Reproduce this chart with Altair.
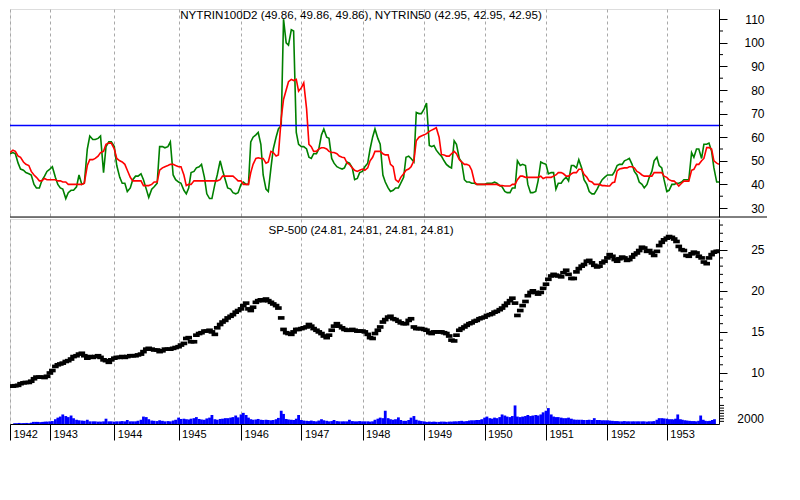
import altair as alt
import pandas as pd

W = 709
H_TOP = 208
H_BOT = 205
FONT = "Liberation Sans"

TOP_TITLE = "NYTRIN100D2 (49.86, 49.86, 49.86), NYTRIN50 (42.95, 42.95, 42.95)"
BOT_TITLE = "SP-500 (24.81, 24.81, 24.81, 24.81)"

# semi-monthly samples (1st and 15th of each month), May 1942 - Nov 1953
sample_dates = pd.date_range("1942-05-15", "1953-11-15", freq="SMS")

nytrin50 = (
    [53, 53.5, 53, 49, 46.5, 46, 45, 44.5, 44, 40, 38.5, 38.5, 41.5, 43.5, 45.5]  # 1942
    + [46.5, 47.5, 43, 40, 38.5, 38, 34, 36.5, 37.5, 37.5, 39, 44, 40, 40.5, 55, 60.5, 59, 59, 59.5, 60.5, 45, 56, 58, 58]  # 1943
    + [56, 48, 43, 40.5, 40.5, 37, 38.5, 42, 43.5, 43.5, 44.5, 42, 38, 34.5, 38, 39, 40.5, 56, 56, 55.5, 56, 58, 44, 42]  # 1944
    + [41, 40.5, 37.5, 36, 38.5, 45, 45.5, 47, 47.5, 48.5, 43, 36, 34, 34, 40, 44, 50, 46, 42, 38.5, 38, 36.5, 36, 36.5]  # 1945
    + [40, 41, 40, 40, 58, 60, 61, 62, 57, 44, 38, 37, 47, 55, 60, 63.5, 65, 110, 100, 99, 105.5, 105, 62, 57]  # 1946
    + [56, 56, 55, 51.5, 51, 53, 53, 55, 61, 63.5, 60, 59.5, 51, 49, 47.5, 47, 46.5, 47, 49.5, 49, 47, 42, 42.5, 45]  # 1947
    + [45.5, 47.5, 49, 55, 60, 63.5, 59.5, 57, 44, 41, 38.5, 37, 37.5, 38.5, 38.5, 40.5, 43, 51.5, 52, 51, 49.5, 70.5, 70, 70]  # 1948
    + [72, 74.5, 56.5, 56, 56.5, 54.5, 53, 52, 50, 48.5, 47.5, 47, 58.5, 57, 51, 49.5, 42, 41, 41, 40.5, 40.5, 40, 40, 40]  # 1949
    + [40, 40.5, 40.5, 40.5, 41, 40.5, 39.5, 39, 37, 36.5, 36.5, 38.5, 38.5, 50, 48, 48.5, 48, 40, 36.5, 36.5, 37, 41.5, 49.5, 49]  # 1950
    + [48.5, 44.5, 45, 45, 38, 40.5, 40.5, 42, 43, 41.5, 48, 48, 47, 50.5, 47, 42, 40, 37, 36, 36, 38, 40, 42, 43]  # 1951
    + [44, 44, 44, 45.5, 48, 48.5, 48.5, 50, 50.5, 51, 48.5, 45.5, 44, 41, 40, 38.5, 40, 43, 45.5, 50, 51.5, 48, 47, 42]  # 1952
    + [37, 37.5, 40, 40, 40.5, 40.5, 41, 42, 42, 42, 53.5, 51.5, 55, 55, 51, 57, 57, 57.5, 54, 47, 41, 41]  # 1953
)

nytrin100d2 = (
    [53.5, 54.5, 54, 52, 51.5, 49.5, 48.5, 48, 45.5, 44, 43, 41.5, 41.5, 42.5, 42]  # 1942
    + [42, 42, 42, 41.5, 41.5, 41, 41, 40, 40, 40, 40, 40, 40, 40.5, 48, 50.5, 50.5, 51, 52, 53.5, 54, 57, 57.5, 57.5]  # 1943
    + [55, 51, 50, 49.5, 48.5, 46, 43, 41.5, 41.5, 41.5, 41.5, 39.5, 39.5, 39.5, 40, 41, 41, 46, 47, 47.5, 48, 48.5, 48.5, 48]  # 1944
    + [47.5, 47.5, 44, 39.5, 40, 40, 41.5, 41.5, 41.5, 41.5, 41.5, 41.5, 41.5, 41.5, 41.5, 41.5, 42, 43.5, 43.5, 43.5, 43.5, 43.5, 42.5, 41.5]  # 1945
    + [41.5, 40, 40, 40, 45, 48.5, 51, 51.3, 51, 51, 49, 49.5, 54, 53.5, 52, 52.5, 68, 76, 80, 83.5, 84.5, 84, 84.5, 79.5]  # 1946
    + [81, 83, 72, 57, 56, 54, 54, 55, 55.5, 55.5, 55, 54, 53.5, 53.5, 53, 52, 51.5, 51.3, 49, 48.5, 47, 46, 45.5, 46]  # 1947
    + [46.5, 46, 47, 50, 51.5, 54, 54, 54, 53, 52.5, 52.5, 48.5, 47.5, 42, 41, 43, 44.5, 46, 46.5, 47.5, 50, 58.5, 60, 60.5]  # 1948
    + [61, 61.5, 62.5, 63, 63.5, 64, 60, 52.7, 52.5, 52, 52, 53, 54, 53, 50.5, 49.5, 48.5, 48.5, 48, 46, 41, 40, 40, 40]  # 1949
    + [40, 40, 40, 40, 40, 40, 39.5, 39.5, 39.3, 39.3, 39.3, 40, 40, 42, 43.5, 43.5, 43, 43, 43, 43, 43, 43, 43.5, 42.5]  # 1950
    + [43, 43, 43, 43.5, 44, 45, 45, 44.5, 43.5, 43.5, 44.5, 45, 45, 46.4, 46.4, 44.3, 43, 41.4, 41, 40, 40, 40, 39.5, 39.5]  # 1951
    + [39.3, 39.3, 40.7, 41, 45.7, 46.5, 46.8, 47, 47, 47.5, 47.5, 47, 45.5, 45, 44, 43.5, 43.5, 43.5, 43.5, 45, 45, 45, 45, 43.5]  # 1952
    + [43, 42, 41.5, 41.4, 40.5, 39.3, 40.5, 41.4, 41.4, 41.4, 46, 46.4, 48.5, 48.5, 50, 51, 55.6, 55.6, 55, 50, 49, 48.5]  # 1953
)

sp500 = (
    [8.4, 8.4, 8.45, 8.5, 8.7, 8.8, 8.85, 8.85, 9.0, 9.3, 9.5, 9.5, 9.5, 9.45, 9.6]  # 1942
    + [10.0, 10.3, 10.8, 11.0, 11.1, 11.2, 11.4, 11.5, 11.7, 12.0, 12.1, 12.3, 12.4, 12.1, 11.8, 12.0, 11.9, 12.0, 12.1, 11.9, 11.6, 11.5, 11.3, 11.6]  # 1943
    + [11.8, 11.9, 11.9, 12.0, 11.9, 12.0, 12.1, 12.1, 12.1, 12.2, 12.3, 12.6, 12.9, 13.0, 12.9, 12.8, 12.8, 12.6, 12.7, 12.9, 12.9, 12.9, 13.0, 13.1]  # 1944
    + [13.2, 13.4, 13.6, 14.2, 14.3, 13.8, 13.8, 14.6, 14.8, 14.9, 15.1, 15.1, 15.2, 15.0, 14.7, 15.5, 15.9, 16.2, 16.4, 16.7, 16.9, 17.1, 17.4, 17.6]  # 1945
    + [17.8, 18.2, 18.5, 17.8, 17.6, 18.0, 18.6, 18.8, 18.9, 18.8, 19.0, 18.8, 18.6, 18.4, 18.2, 17.9, 16.7, 15.3, 14.9, 14.8, 14.7, 15.0, 15.3, 15.3]  # 1946
    + [15.4, 15.5, 15.6, 15.9, 15.7, 15.4, 15.2, 15.0, 14.8, 14.5, 14.3, 14.6, 15.2, 15.7, 16.0, 15.7, 15.5, 15.3, 15.2, 15.2, 15.3, 15.2, 15.1, 15.1]  # 1947
    + [15.1, 15.0, 14.7, 14.3, 14.2, 14.8, 15.2, 15.6, 16.2, 16.5, 16.8, 16.9, 16.6, 16.5, 16.3, 16.1, 16.0, 16.0, 16.4, 16.6, 15.6, 15.4, 15.4, 15.4]  # 1948
    + [15.3, 15.2, 14.9, 14.8, 15.0, 15.0, 15.0, 15.0, 14.9, 14.8, 14.5, 14.0, 13.9, 14.6, 15.2, 15.4, 15.6, 15.8, 16.0, 16.1, 16.3, 16.4, 16.6, 16.7]  # 1949
    + [16.8, 17.0, 17.1, 17.2, 17.4, 17.5, 17.7, 17.9, 18.2, 18.5, 18.8, 19.1, 18.5, 17.0, 17.6, 18.2, 18.7, 19.4, 19.8, 20.0, 19.8, 19.6, 19.8, 20.3]  # 1950
    + [20.8, 21.4, 21.8, 22.0, 21.9, 21.8, 21.7, 22.2, 22.5, 22.0, 21.5, 21.5, 22.3, 22.7, 23.0, 23.2, 23.6, 23.7, 23.4, 23.1, 22.9, 23.0, 23.4, 23.6]  # 1951
    + [24.0, 24.4, 24.2, 23.8, 23.6, 23.9, 24.1, 24.0, 23.7, 23.8, 24.1, 24.4, 24.6, 24.9, 25.3, 25.2, 24.8, 24.9, 24.6, 24.3, 24.8, 25.5, 25.9, 26.2]  # 1952
    + [26.4, 26.6, 26.5, 26.3, 26.0, 25.4, 25.0, 24.9, 24.3, 24.2, 24.5, 24.7, 24.6, 24.2, 24.0, 23.5, 23.3, 24.0, 24.4, 24.7, 24.8, 24.81]  # 1953
)

volume = (
    [300, 300, 400, 300, 350, 400, 300, 500, 800, 800, 800, 700, 800, 900, 900]  # 1942
    + [1000, 1100, 1800, 2400, 2800, 3600, 3000, 2600, 3200, 2200, 1600, 1400, 1300, 1200, 1600, 1000, 1000, 1000, 900, 900, 1000, 2000, 1000, 1000]  # 1943
    + [900, 1000, 1000, 1100, 1000, 1500, 1000, 1000, 1000, 1200, 1600, 2800, 2600, 1800, 1300, 1200, 1100, 1400, 1200, 1000, 1100, 1000, 1300, 1600]  # 1944
    + [2400, 1900, 2000, 1800, 1700, 2000, 2200, 2600, 1900, 1700, 1600, 2100, 2400, 3400, 1800, 1600, 1900, 2000, 2200, 2200, 2400, 2600, 3200, 2500]  # 1945
    + [3600, 4200, 3400, 2400, 1800, 1600, 1700, 1900, 1600, 1500, 1600, 1500, 1400, 1500, 1800, 2300, 5000, 3800, 1900, 1700, 1600, 1500, 2000, 3400]  # 1946
    + [1500, 1300, 1200, 1100, 1300, 1100, 1000, 1300, 1800, 1400, 1200, 1000, 1100, 1500, 1100, 1000, 1000, 1000, 1000, 1600, 1100, 1000, 1000, 1100]  # 1947
    + [1000, 1000, 1000, 900, 1000, 1600, 2000, 2400, 2200, 5000, 2200, 1800, 1600, 1800, 2500, 1500, 1200, 1200, 1500, 2400, 3000, 1600, 1300, 1100]  # 1948
    + [1000, 800, 900, 800, 900, 800, 800, 900, 900, 800, 900, 900, 1000, 1000, 1100, 1200, 1000, 1100, 1300, 1400, 1400, 1500, 1500, 1800]  # 1949
    + [2400, 2800, 2200, 2000, 2400, 2200, 2600, 3600, 3200, 2800, 2600, 3000, 7000, 2800, 2600, 2800, 3000, 3400, 3000, 3200, 3400, 3200, 3600, 4400]  # 1950
    + [5000, 6000, 3600, 2800, 2600, 2600, 2400, 2200, 2200, 2400, 2000, 1700, 1600, 1600, 1600, 1500, 1500, 1600, 1500, 2200, 1500, 1500, 1400, 1400]  # 1951
    + [1400, 1300, 1200, 1100, 1100, 1000, 1000, 1100, 1000, 1000, 1000, 1000, 1000, 1000, 1000, 1000, 900, 1000, 1000, 1100, 1600, 2200, 2200, 2100]  # 1952
    + [2000, 1800, 1800, 1700, 2000, 3600, 1800, 1600, 1400, 1300, 1200, 1100, 1100, 1000, 1200, 3200, 1600, 1200, 1100, 1200, 1500, 1800]  # 1953
)

n = len(sample_dates)
for name, arr in [("nytrin50", nytrin50), ("nytrin100d2", nytrin100d2), ("sp500", sp500), ("volume", volume)]:
    assert len(arr) == n, (name, len(arr), n)


def ms(s):
    return int(pd.Timestamp(s, tz="UTC").value // 10**6)


df = pd.DataFrame({
    "date": sample_dates.strftime("%Y-%m-%d"),
    "NYTRIN50": nytrin50,
    "NYTRIN100D2": nytrin100d2,
    "SP500": sp500,
    "Volume": volume,
})
df["t"] = [ms(s) for s in df["date"]]  # time as epoch milliseconds (UTC)

# axis tick labels / gridlines: first bar, then each new year
year_ticks = ["1942-05-15"] + [f"{y}-01-01" for y in range(1943, 1954)]
# bar-index style time axis: calendar breakpoints and where they sit across the plot
x_breaks = year_ticks + ["1953-11-15"]
x_break_pos = [0, 39.9, 104.3, 168.6, 231.0, 291.4, 352.5, 414.2, 474.6, 536.0, 597.4, 656.8, 709]

top_major = [30, 40, 50, 60, 70, 80, 90, 100, 110]
top_minor = [35, 45, 55, 65, 75, 85, 95, 105]
price_major = [10, 15, 20, 25]
price_minor = [7, 8, 9, 11, 12, 13, 14, 16, 17, 18, 19, 21, 22, 23, 24, 26, 27, 28]
vol_ticks = [1000, 2000, 3000, 4000, 5000, 6000, 7000]
trin_level = [65]

x_scale = alt.Scale(type="linear", domain=[ms(s) for s in x_breaks], range=x_break_pos,
                    nice=False, zero=False)
tick_values = [ms(s) for s in year_ticks]
grid_kw = dict(grid=True, gridDash=[3, 3], gridColor="#a8a8a8", gridWidth=1)

top_x_axis = alt.Axis(values=tick_values, labels=False, ticks=False,
                      domain=False, title=None, orient="bottom", **grid_kw)
bot_x_axis = alt.Axis(values=tick_values, title=None, orient="bottom",
                      labelExpr="utcFormat(datum.value, '%Y')",
                      labelAlign="left", labelBaseline="top", labelPadding=-12, labelOffset=3,
                      labelFont=FONT, labelFontSize=11, labelColor="black",
                      labelOverlap=False, labelFlush=False, labelBound=False,
                      tickSize=16, tickColor="black", domainColor="black", **grid_kw)

y_top = alt.Scale(domain=[26.19, 114.32], nice=False, zero=False)
y_price = alt.Scale(domain=[3.795, 28.735], nice=False, zero=False)
y_vol = alt.Scale(domain=[0, 77285], nice=False, zero=True)


def right_axis(values):
    return alt.Axis(orient="right", values=values, tickSize=8, tickColor="black",
                    domainColor="black", labelPadding=37, labelAlign="right",
                    labelFont=FONT, labelFontSize=12, labelColor="black",
                    grid=False, title=None)


# ---------------- top pane ----------------
red = alt.Chart(df).mark_line(color="#ff0000", strokeWidth=1.6, clip=True).encode(
    x=alt.X("t:Q", scale=x_scale, axis=None),
    y=alt.Y("NYTRIN100D2:Q", scale=y_top, axis=None))
green = alt.Chart(df).mark_line(color="#008000", strokeWidth=1.6, clip=True).encode(
    x=alt.X("t:Q", scale=x_scale, axis=top_x_axis),
    y=alt.Y("NYTRIN50:Q", scale=y_top, axis=right_axis(top_major)))
level = alt.Chart(pd.DataFrame({"level": trin_level})).mark_rule(color="#0000ff", strokeWidth=1.5).encode(
    y=alt.Y("level:Q", scale=y_top, axis=None))
top_minor_ticks = alt.Chart(pd.DataFrame({"v": top_minor})).mark_rule(color="black").encode(
    y=alt.Y("v:Q", scale=y_top, axis=None), x=alt.value(W), x2=alt.value(W + 4))
separator = alt.Chart(pd.DataFrame({"a": [0]})).mark_rule(color="black").encode(
    x=alt.value(0), x2=alt.value(757), y=alt.value(H_TOP))
top_title = alt.Chart(pd.DataFrame({"t": [TOP_TITLE]})).mark_text(
    font=FONT, fontSize=11.6, color="black", align="center", baseline="alphabetic").encode(
    x=alt.value(351), y=alt.value(10), text="t:N")

top = alt.layer(green, level, red, top_minor_ticks, separator, top_title).resolve_scale(
    x="independent", y="independent").properties(width=W, height=H_TOP)

# ---------------- bottom pane ----------------
price = alt.Chart(df).mark_point(shape="M-1,-0.55L1,-0.55L1,0.55L-1,0.55Z", filled=True, size=44,
                                 color="black", opacity=1, strokeWidth=0, clip=True).encode(
    x=alt.X("t:Q", scale=x_scale, axis=bot_x_axis),
    y=alt.Y("SP500:Q", scale=y_price, axis=right_axis(price_major)))
vol = alt.Chart(df).mark_bar(color="#0000ff", width=2.8, clip=True).encode(
    x=alt.X("t:Q", scale=x_scale, axis=None),
    y=alt.Y("Volume:Q", scale=y_vol, axis=None))
price_minor_ticks = alt.Chart(pd.DataFrame({"v": price_minor})).mark_rule(color="black").encode(
    y=alt.Y("v:Q", scale=y_price, axis=None), x=alt.value(W), x2=alt.value(W + 4))
vol_tick_marks = alt.Chart(pd.DataFrame({"v": vol_ticks})).mark_rule(color="black").encode(
    y=alt.Y("v:Q", scale=y_vol, axis=None), x=alt.value(W), x2=alt.value(W + 5))
vol_label = alt.Chart(pd.DataFrame({"v": [2000], "t": ["2000"]})).mark_text(
    font=FONT, fontSize=12, color="black", align="right", baseline="middle").encode(
    y=alt.Y("v:Q", scale=y_vol, axis=None), x=alt.value(W + 45), text="t:N")
bot_title = alt.Chart(pd.DataFrame({"t": [BOT_TITLE]})).mark_text(
    font=FONT, fontSize=11.6, color="black", align="center", baseline="alphabetic").encode(
    x=alt.value(351), y=alt.value(15), text="t:N")

bottom = alt.layer(price, vol, price_minor_ticks, vol_tick_marks, vol_label, bot_title).resolve_scale(
    x="independent", y="independent").properties(width=W, height=H_BOT)

chart = alt.vconcat(top, bottom, spacing=0).properties(
    padding={"left": 0, "top": 0, "right": 5, "bottom": 5}
).configure_view(stroke=None).configure(font=FONT, background="white")

chart.save("out.html", embed_options={"renderer": "svg", "actions": False})
